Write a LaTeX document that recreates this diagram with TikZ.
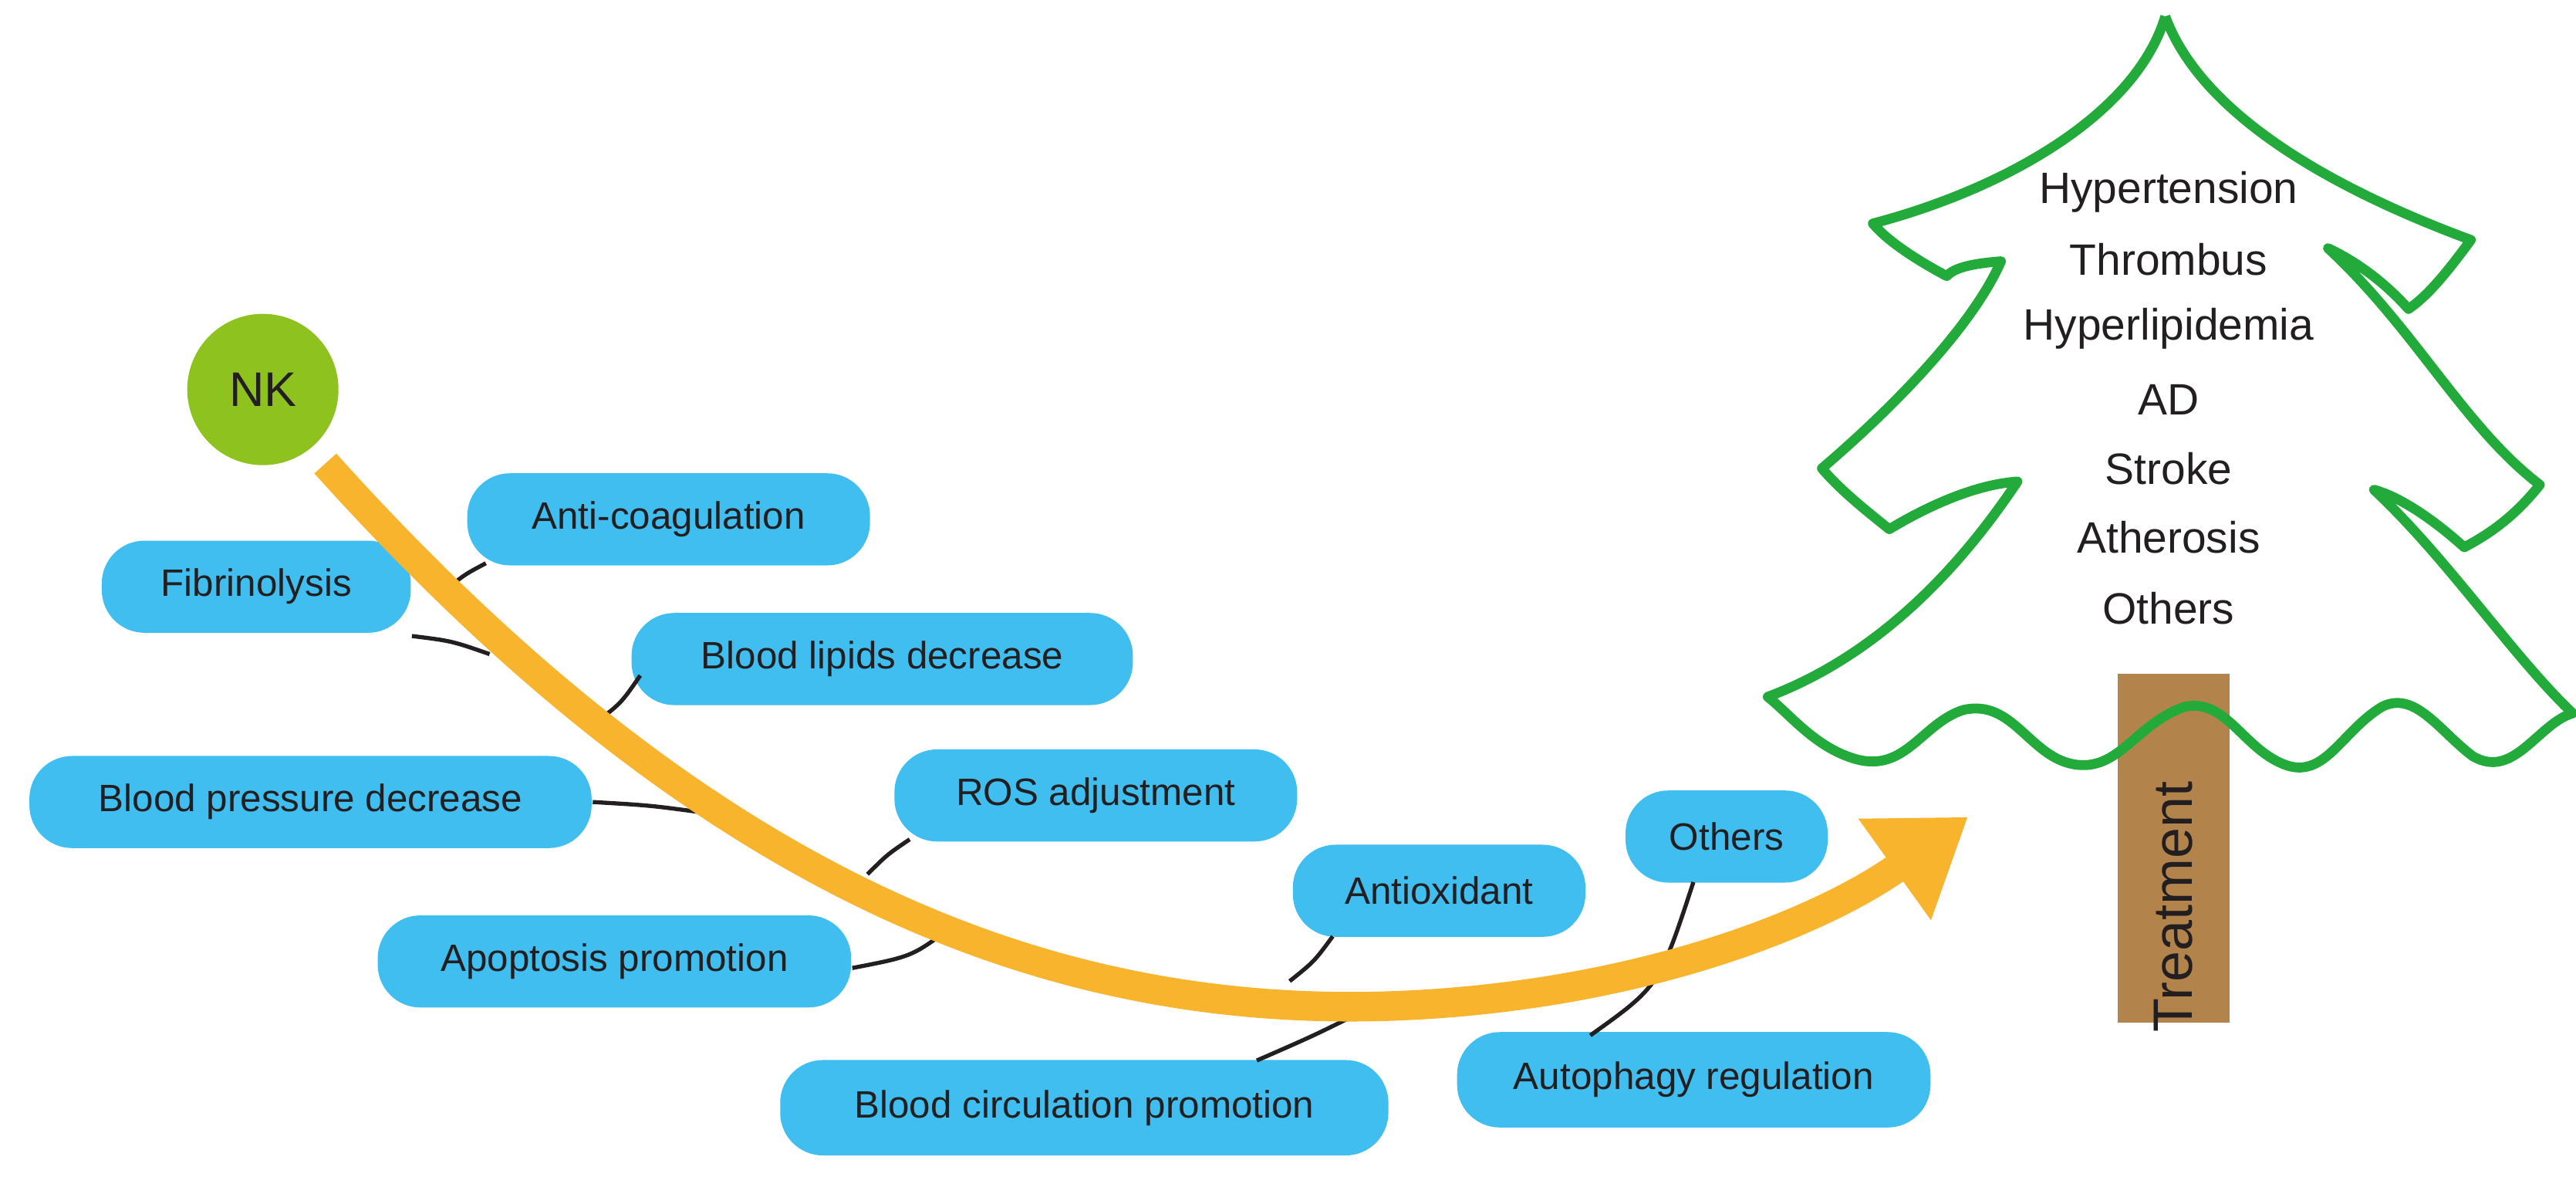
\documentclass[tikz,border=0pt]{standalone}
\usepackage{fontspec}
\setmainfont{Liberation Sans}
\usetikzlibrary{arrows.meta}
\definecolor{boxblue}{HTML}{3FBEEF}
\definecolor{nkgreen}{HTML}{8DC21F}
\definecolor{arrorange}{HTML}{F8B42C}
\definecolor{treegreen}{HTML}{22AA3A}
\definecolor{trunk}{HTML}{B2834A}
\definecolor{txt}{HTML}{231F20}
\begin{document}
\begin{tikzpicture}[x=0.01cm,y=-0.01cm,
  box/.style={draw=none,fill=boxblue,rounded corners=0.26cm,text=txt,font=\fontsize{6.6pt}{8pt}\selectfont,inner sep=0pt,minimum height=0.56cm},
  conn/.style={draw=txt,line width=0.025cm},
  tt/.style={text=txt,font=\fontsize{7.6pt}{9pt}\selectfont}]
\useasboundingbox (0,0) rectangle (1568,716);
% tree trunk
\node[fill=trunk,minimum width=0.68cm,minimum height=2.12cm,inner sep=0pt] (trunk) at (1323,516) {};
\node[rotate=90,text=txt,font=\fontsize{9.6pt}{11pt}\selectfont] (treat) at (1323,552) {Treatment};
% tree outline
\draw[treegreen,line width=0.06cm,line join=round] (1318,10)
  .. controls (1340,70) and (1420,115) .. (1504,146)
  .. controls (1490,165) and (1478,180) .. (1466,188)
  .. controls (1450,170) and (1432,158) .. (1417,151)
  .. controls (1470,200) and (1500,260) .. (1546,295)
  .. controls (1530,315) and (1515,325) .. (1500,333)
  .. controls (1480,315) and (1460,302) .. (1445,298)
  .. controls (1490,340) and (1530,400) .. (1566,434)
  .. controls (1545,440) and (1530,475) .. (1505,460)
  .. controls (1485,445) and (1470,420) .. (1450,430)
  .. controls (1425,445) and (1415,475) .. (1390,465)
  .. controls (1365,455) and (1355,425) .. (1330,430)
  .. controls (1300,440) and (1290,470) .. (1262,465)
  .. controls (1235,460) and (1225,425) .. (1195,432)
  .. controls (1170,440) and (1160,470) .. (1130,462)
  .. controls (1105,455) and (1090,435) .. (1076,424)
  .. controls (1140,400) and (1190,350) .. (1228,293)
  .. controls (1200,295) and (1170,310) .. (1150,322)
  .. controls (1135,310) and (1120,298) .. (1109,285)
  .. controls (1150,250) and (1200,200) .. (1218,159)
  .. controls (1205,160) and (1190,162) .. (1185,168)
  .. controls (1170,160) and (1150,148) .. (1140,136)
  .. controls (1220,115) and (1300,70) .. (1318,10);
% tree labels
\node[tt] (t1) at (1320,117) {Hypertension};
\node[tt] (t2) at (1320,158) {Thrombus};
\node[tt] (t3) at (1320,200) {Hyperlipidemia};
\node[tt] (t4) at (1320,243) {AD};
\node[tt] (t5) at (1320,285) {Stroke};
\node[tt] (t6) at (1320,327) {Atherosis};
\node[tt] (t7) at (1320,370) {Others};
% connector points on arrow
\coordinate (c1) at (268,362);
\coordinate (c2) at (298,398);
\coordinate (c3) at (362,440);
\coordinate (c4) at (425,494);
\coordinate (c5) at (528,532);
\coordinate (c6) at (578,565);
\coordinate (c7) at (785,597);
\coordinate (c8) at (832,614);
\coordinate (c9) at (968,630);
% boxes
\node[box,minimum width=2.45cm] (ac) at (407,316) {Anti-coagulation};
\node[box,minimum width=1.88cm] (fi) at (156,357) {Fibrinolysis};
\node[box,minimum width=3.05cm] (bl) at (537,401) {Blood lipids decrease};
\node[box,minimum width=3.42cm] (bp) at (189,488) {Blood pressure decrease};
\node[box,minimum width=2.45cm] (ros) at (667,484) {ROS adjustment};
\node[box,minimum width=2.88cm] (ap) at (374,585) {Apoptosis promotion};
\node[box,minimum width=1.78cm] (ao) at (876,542) {Antioxidant};
\node[box,minimum width=1.23cm] (ot) at (1051,509) {Others};
\node[box,minimum width=3.70cm,minimum height=0.58cm] (bc) at (660,674) {Blood circulation promotion};
\node[box,minimum width=2.88cm,minimum height=0.58cm] (au) at (1031,657) {Autophagy regulation};
% connectors
\draw[conn] (ac.south west) ++(12,-2) coordinate (a1) (a1) .. controls (282,350) .. (c1);
\draw[conn] (fi.east) ++(0,30) coordinate (f1) (f1) .. controls (275,390) .. (c2);
\draw[conn] (bl.west) ++(6,10) coordinate (b1) (b1) .. controls (378,428) .. (c3);
\draw[conn] (bp.east) -- ++(0,0) coordinate (p1) (p1) .. controls (395,490) .. (c4);
\draw[conn] (ros.south west) ++(10,-2) coordinate (r1) (r1) .. controls (540,520) .. (c5);
\draw[conn] (ap.east) ++(0,4) coordinate (q1) (q1) .. controls (555,582) .. (c6);
\draw[conn] (ao.south west) ++(25,-1) coordinate (o1) (o1) .. controls (800,585) .. (c7);
\draw[conn] (bc.north) ++(105,1) coordinate (d1) (d1) .. controls (800,630) .. (c8);
\draw[conn] (ot.south west) ++(42,-1) coordinate (e1) (e1) .. controls (1010,600) .. (c9);
% orange arrow
\node[circle,fill=nkgreen,minimum size=0.92cm,inner sep=0pt,text=txt,font=\fontsize{8.4pt}{10pt}\selectfont] (nk) at (160,237) {NK};
\coordinate (tip) at (1198,497);
\draw[arrorange,line width=0.18cm,-{Triangle[length=0.55cm,width=0.72cm]}] (nk.south east) ++(5,12) coordinate (s0) (s0) .. controls (430,540) and (640,620) .. (850,612) .. controls (1000,606) and (1110,560) .. (tip);
\end{tikzpicture}
\end{document}
